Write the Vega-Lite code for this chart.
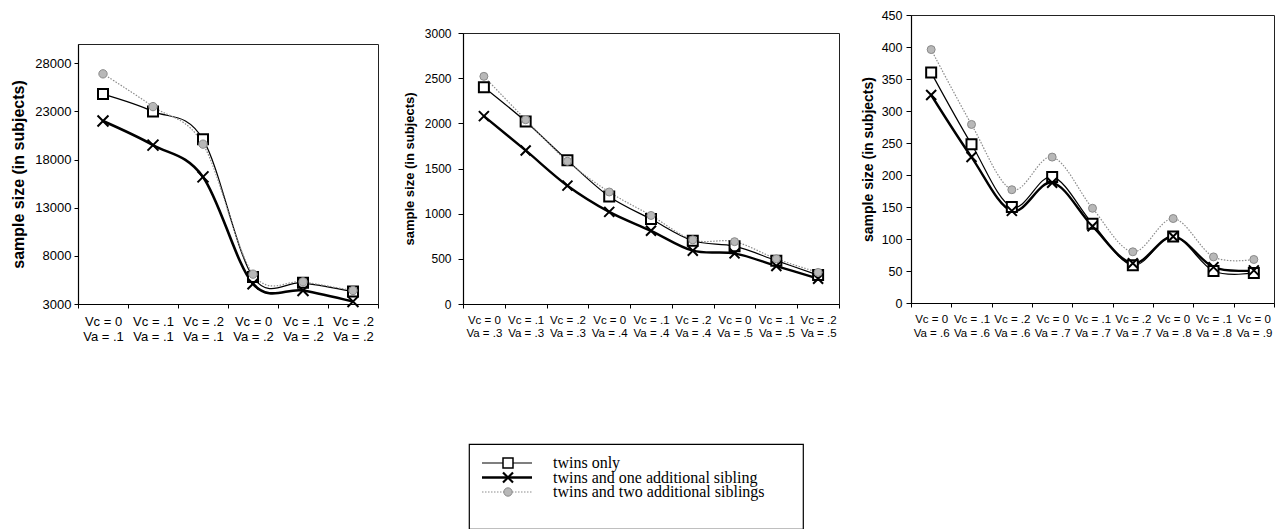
{
  "$schema": "https://vega.github.io/schema/vega-lite/v6.json",
  "background": "white",
  "padding": {"left": 10, "top": 8, "right": 0, "bottom": 0},
  "config": {
    "font": "Liberation Sans",
    "view": {"stroke": "#222", "strokeWidth": 1},
    "axis": {"domainColor": "#000", "domainWidth": 1.2, "tickColor": "#000", "tickWidth": 1, "labelColor": "#000", "titleColor": "#000", "grid": false, "labelFont": "Liberation Sans", "titleFont": "Liberation Sans"}
  },
  "spacing": 97,
  "vconcat": [
    {
      "spacing": 20,
      "resolve": {"scale": {"x": "independent", "y": "independent"}},
      "hconcat": [
        {
          "spacing": 0,
          "vconcat": [
            {"width": 304, "height": 28, "view": {"stroke": null}, "data": {"values": [{}]}, "mark": {"type": "point", "opacity": 0}, "encoding": {}},
            {
              "width": 300, "height": 260,
              "data": {"values": [
                {"condition": "Vc = 0, Va = .1", "group": "twins only", "size": 24800},
                {"condition": "Vc = .1, Va = .1", "group": "twins only", "size": 23000},
                {"condition": "Vc = .2, Va = .1", "group": "twins only", "size": 20100},
                {"condition": "Vc = 0, Va = .2", "group": "twins only", "size": 5800},
                {"condition": "Vc = .1, Va = .2", "group": "twins only", "size": 5200},
                {"condition": "Vc = .2, Va = .2", "group": "twins only", "size": 4300},
                {"condition": "Vc = 0, Va = .1", "group": "twins and one additional sibling", "size": 22000},
                {"condition": "Vc = .1, Va = .1", "group": "twins and one additional sibling", "size": 19500},
                {"condition": "Vc = .2, Va = .1", "group": "twins and one additional sibling", "size": 16200},
                {"condition": "Vc = 0, Va = .2", "group": "twins and one additional sibling", "size": 5100},
                {"condition": "Vc = .1, Va = .2", "group": "twins and one additional sibling", "size": 4400},
                {"condition": "Vc = .2, Va = .2", "group": "twins and one additional sibling", "size": 3250},
                {"condition": "Vc = 0, Va = .1", "group": "twins and two additional siblings", "size": 26900},
                {"condition": "Vc = .1, Va = .1", "group": "twins and two additional siblings", "size": 23500},
                {"condition": "Vc = .2, Va = .1", "group": "twins and two additional siblings", "size": 19600},
                {"condition": "Vc = 0, Va = .2", "group": "twins and two additional siblings", "size": 6100},
                {"condition": "Vc = .1, Va = .2", "group": "twins and two additional siblings", "size": 5300},
                {"condition": "Vc = .2, Va = .2", "group": "twins and two additional siblings", "size": 4400}
              ]},
              "encoding": {
                "x": {"field": "condition", "type": "nominal", "sort": null, "bandPosition": 0.5,
                  "scale": {"type": "band", "paddingInner": 0, "paddingOuter": 0},
                  "axis": {"title": null, "tickBand": "extent", "labelAngle": 0, "labelExpr": "split(datum.label, ', ')", "labelFontSize": 13, "labelLineHeight": 15, "tickSize": 4, "labelPadding": 7, "labelOverlap": false}},
                "y": {"field": "size", "type": "quantitative",
                  "scale": {"domain": [3000, 30000], "nice": false, "zero": false},
                  "axis": {"title": "sample size (in subjects)", "titleFontSize": 16, "titleFontWeight": "bold", "titlePadding": 8, "values": [3000, 8000, 13000, 18000, 23000, 28000], "format": "d", "labelFontSize": 13, "tickSize": 4, "labelPadding": 3}}
              },
              "layer": [
                {"transform": [{"filter": "datum.group == 'twins only'"}], "mark": {"type": "line", "interpolate": "cardinal", "stroke": "#000", "strokeWidth": 1.2}},
                {"transform": [{"filter": "datum.group == 'twins and one additional sibling'"}], "mark": {"type": "line", "interpolate": "cardinal", "stroke": "#000", "strokeWidth": 2.6}},
                {"transform": [{"filter": "datum.group == 'twins and two additional siblings'"}], "mark": {"type": "line", "interpolate": "cardinal", "stroke": "#8c8c8c", "strokeWidth": 1.2, "strokeDash": [1.5, 1.5]}},
                {"transform": [{"filter": "datum.group == 'twins only'"}], "mark": {"type": "point", "shape": "square", "size": 100, "filled": true, "fill": "white", "stroke": "#000", "strokeWidth": 2, "opacity": 1}},
                {"transform": [{"filter": "datum.group == 'twins and one additional sibling'"}], "mark": {"type": "point", "shape": "M-1,-1L1,1M-1,1L1,-1", "size": 120, "filled": false, "stroke": "#000", "strokeWidth": 2, "opacity": 1}},
                {"transform": [{"filter": "datum.group == 'twins and two additional siblings'"}], "mark": {"type": "point", "shape": "circle", "size": 70, "filled": true, "fill": "#b8b8b8", "stroke": "#8a8a8a", "strokeWidth": 1, "opacity": 1}}
              ]
            }
          ]
        },
        {
          "spacing": 0,
          "vconcat": [
            {"width": 376, "height": 11, "view": {"stroke": null}, "data": {"values": [{}]}, "mark": {"type": "point", "opacity": 0}, "encoding": {}},
            {
              "width": 376, "height": 271,
              "data": {"values": [
                {"condition": "Vc = 0, Va = .3", "group": "twins only", "size": 2400},
                {"condition": "Vc = .1, Va = .3", "group": "twins only", "size": 2020},
                {"condition": "Vc = .2, Va = .3", "group": "twins only", "size": 1590},
                {"condition": "Vc = 0, Va = .4", "group": "twins only", "size": 1190},
                {"condition": "Vc = .1, Va = .4", "group": "twins only", "size": 940},
                {"condition": "Vc = .2, Va = .4", "group": "twins only", "size": 700},
                {"condition": "Vc = 0, Va = .5", "group": "twins only", "size": 640},
                {"condition": "Vc = .1, Va = .5", "group": "twins only", "size": 480},
                {"condition": "Vc = .2, Va = .5", "group": "twins only", "size": 320},
                {"condition": "Vc = 0, Va = .3", "group": "twins and one additional sibling", "size": 2080},
                {"condition": "Vc = .1, Va = .3", "group": "twins and one additional sibling", "size": 1700},
                {"condition": "Vc = .2, Va = .3", "group": "twins and one additional sibling", "size": 1310},
                {"condition": "Vc = 0, Va = .4", "group": "twins and one additional sibling", "size": 1020},
                {"condition": "Vc = .1, Va = .4", "group": "twins and one additional sibling", "size": 810},
                {"condition": "Vc = .2, Va = .4", "group": "twins and one additional sibling", "size": 590},
                {"condition": "Vc = 0, Va = .5", "group": "twins and one additional sibling", "size": 560},
                {"condition": "Vc = .1, Va = .5", "group": "twins and one additional sibling", "size": 420},
                {"condition": "Vc = .2, Va = .5", "group": "twins and one additional sibling", "size": 280},
                {"condition": "Vc = 0, Va = .3", "group": "twins and two additional siblings", "size": 2520},
                {"condition": "Vc = .1, Va = .3", "group": "twins and two additional siblings", "size": 2040},
                {"condition": "Vc = .2, Va = .3", "group": "twins and two additional siblings", "size": 1580},
                {"condition": "Vc = 0, Va = .4", "group": "twins and two additional siblings", "size": 1240},
                {"condition": "Vc = .1, Va = .4", "group": "twins and two additional siblings", "size": 980},
                {"condition": "Vc = .2, Va = .4", "group": "twins and two additional siblings", "size": 710},
                {"condition": "Vc = 0, Va = .5", "group": "twins and two additional siblings", "size": 690},
                {"condition": "Vc = .1, Va = .5", "group": "twins and two additional siblings", "size": 500},
                {"condition": "Vc = .2, Va = .5", "group": "twins and two additional siblings", "size": 350}
              ]},
              "encoding": {
                "x": {"field": "condition", "type": "nominal", "sort": null, "bandPosition": 0.5,
                  "scale": {"type": "band", "paddingInner": 0, "paddingOuter": 0},
                  "axis": {"title": null, "tickBand": "extent", "labelAngle": 0, "labelExpr": "split(datum.label, ', ')", "labelFontSize": 11.5, "labelLineHeight": 13, "tickSize": 4, "labelPadding": 6, "labelOverlap": false}},
                "y": {"field": "size", "type": "quantitative",
                  "scale": {"domain": [0, 3000], "nice": false, "zero": false},
                  "axis": {"title": "sample size (in subjects)", "titleFontSize": 13, "titleFontWeight": "bold", "titlePadding": 8, "values": [0, 500, 1000, 1500, 2000, 2500, 3000], "format": "d", "labelFontSize": 12, "tickSize": 5, "labelPadding": 7}}
              },
              "layer": [
                {"transform": [{"filter": "datum.group == 'twins only'"}], "mark": {"type": "line", "interpolate": "cardinal", "stroke": "#000", "strokeWidth": 1.2}},
                {"transform": [{"filter": "datum.group == 'twins and one additional sibling'"}], "mark": {"type": "line", "interpolate": "cardinal", "stroke": "#000", "strokeWidth": 2.4}},
                {"transform": [{"filter": "datum.group == 'twins and two additional siblings'"}], "mark": {"type": "line", "interpolate": "cardinal", "stroke": "#8c8c8c", "strokeWidth": 1.2, "strokeDash": [1.5, 1.5]}},
                {"transform": [{"filter": "datum.group == 'twins only'"}], "mark": {"type": "point", "shape": "square", "size": 100, "filled": true, "fill": "white", "stroke": "#000", "strokeWidth": 2, "opacity": 1}},
                {"transform": [{"filter": "datum.group == 'twins and one additional sibling'"}], "mark": {"type": "point", "shape": "M-1,-1L1,1M-1,1L1,-1", "size": 100, "filled": false, "stroke": "#000", "strokeWidth": 2, "opacity": 1}},
                {"transform": [{"filter": "datum.group == 'twins and two additional siblings'"}], "mark": {"type": "point", "shape": "circle", "size": 64, "filled": true, "fill": "#b8b8b8", "stroke": "#8a8a8a", "strokeWidth": 1, "opacity": 1}}
              ]
            }
          ]
        },
        {
          "width": 363, "height": 288,
          "data": {"values": [
            {"condition": "Vc = 0, Va = .6", "group": "twins only", "size": 360},
            {"condition": "Vc = .1, Va = .6", "group": "twins only", "size": 248},
            {"condition": "Vc = .2, Va = .6", "group": "twins only", "size": 150},
            {"condition": "Vc = 0, Va = .7", "group": "twins only", "size": 197},
            {"condition": "Vc = .1, Va = .7", "group": "twins only", "size": 124},
            {"condition": "Vc = .2, Va = .7", "group": "twins only", "size": 59},
            {"condition": "Vc = 0, Va = .8", "group": "twins only", "size": 104},
            {"condition": "Vc = .1, Va = .8", "group": "twins only", "size": 50},
            {"condition": "Vc = 0, Va = .9", "group": "twins only", "size": 47},
            {"condition": "Vc = 0, Va = .6", "group": "twins and one additional sibling", "size": 325},
            {"condition": "Vc = .1, Va = .6", "group": "twins and one additional sibling", "size": 228},
            {"condition": "Vc = .2, Va = .6", "group": "twins and one additional sibling", "size": 144},
            {"condition": "Vc = 0, Va = .7", "group": "twins and one additional sibling", "size": 188},
            {"condition": "Vc = .1, Va = .7", "group": "twins and one additional sibling", "size": 120},
            {"condition": "Vc = .2, Va = .7", "group": "twins and one additional sibling", "size": 62},
            {"condition": "Vc = 0, Va = .8", "group": "twins and one additional sibling", "size": 104},
            {"condition": "Vc = .1, Va = .8", "group": "twins and one additional sibling", "size": 56},
            {"condition": "Vc = 0, Va = .9", "group": "twins and one additional sibling", "size": 51},
            {"condition": "Vc = 0, Va = .6", "group": "twins and two additional siblings", "size": 396},
            {"condition": "Vc = .1, Va = .6", "group": "twins and two additional siblings", "size": 279},
            {"condition": "Vc = .2, Va = .6", "group": "twins and two additional siblings", "size": 177},
            {"condition": "Vc = 0, Va = .7", "group": "twins and two additional siblings", "size": 228},
            {"condition": "Vc = .1, Va = .7", "group": "twins and two additional siblings", "size": 148},
            {"condition": "Vc = .2, Va = .7", "group": "twins and two additional siblings", "size": 80},
            {"condition": "Vc = 0, Va = .8", "group": "twins and two additional siblings", "size": 132},
            {"condition": "Vc = .1, Va = .8", "group": "twins and two additional siblings", "size": 72},
            {"condition": "Vc = 0, Va = .9", "group": "twins and two additional siblings", "size": 68}
          ]},
          "encoding": {
            "x": {"field": "condition", "type": "nominal", "sort": null, "bandPosition": 0.5,
              "scale": {"type": "band", "paddingInner": 0, "paddingOuter": 0},
              "axis": {"title": null, "tickBand": "extent", "labelAngle": 0, "labelExpr": "split(datum.label, ', ')", "labelFontSize": 11.5, "labelLineHeight": 14, "tickSize": 4, "labelPadding": 6, "labelOverlap": false}},
            "y": {"field": "size", "type": "quantitative",
              "scale": {"domain": [0, 450], "nice": false, "zero": false},
              "axis": {"title": "sample size (in subjects)", "titleFontSize": 14, "titleFontWeight": "bold", "titlePadding": 6, "values": [0, 50, 100, 150, 200, 250, 300, 350, 400, 450], "format": "d", "labelFontSize": 12.5, "tickSize": 5, "labelPadding": 4}}
          },
          "layer": [
            {"transform": [{"filter": "datum.group == 'twins only'"}], "mark": {"type": "line", "interpolate": "cardinal", "stroke": "#000", "strokeWidth": 1.2}},
            {"transform": [{"filter": "datum.group == 'twins and one additional sibling'"}], "mark": {"type": "line", "interpolate": "cardinal", "stroke": "#000", "strokeWidth": 2.4}},
            {"transform": [{"filter": "datum.group == 'twins and two additional siblings'"}], "mark": {"type": "line", "interpolate": "cardinal", "stroke": "#8c8c8c", "strokeWidth": 1.2, "strokeDash": [1.5, 1.5]}},
            {"transform": [{"filter": "datum.group == 'twins only'"}], "mark": {"type": "point", "shape": "square", "size": 100, "filled": true, "fill": "white", "stroke": "#000", "strokeWidth": 2, "opacity": 1}},
            {"transform": [{"filter": "datum.group == 'twins and one additional sibling'"}], "mark": {"type": "point", "shape": "M-1,-1L1,1M-1,1L1,-1", "size": 100, "filled": false, "stroke": "#000", "strokeWidth": 2, "opacity": 1}},
            {"transform": [{"filter": "datum.group == 'twins and two additional siblings'"}], "mark": {"type": "point", "shape": "circle", "size": 64, "filled": true, "fill": "#b8b8b8", "stroke": "#8a8a8a", "strokeWidth": 1, "opacity": 1}}
          ]
        }
      ]
    },
    {
      "spacing": 10,
      "hconcat": [
        {"width": 380, "height": 1, "view": {"stroke": null}, "data": {"values": [{}]}, "mark": {"type": "point", "opacity": 0}, "encoding": {}},
        {
          "width": 334, "height": 85,
          "view": {"stroke": "#000", "strokeWidth": 1.2},
          "data": {"values": [
            {"series": "twins only"},
            {"series": "twins and one additional sibling"},
            {"series": "twins and two additional siblings"}
          ]},
          "encoding": {
            "y": {"field": "series", "type": "nominal", "sort": null, "scale": {"type": "point", "range": [19, 48], "padding": 0}, "axis": null}
          },
          "layer": [
            {"transform": [{"filter": "datum.series == 'twins only'"}], "mark": {"type": "rule", "stroke": "#000", "strokeWidth": 1.2},
              "encoding": {"x": {"datum": 13, "type": "quantitative", "scale": {"domain": [0, 334], "nice": false, "zero": false}, "axis": null}, "x2": {"datum": 63}}},
            {"transform": [{"filter": "datum.series == 'twins and one additional sibling'"}], "mark": {"type": "rule", "stroke": "#000", "strokeWidth": 2.6},
              "encoding": {"x": {"datum": 13, "type": "quantitative", "scale": {"domain": [0, 334], "nice": false, "zero": false}, "axis": null}, "x2": {"datum": 63}}},
            {"transform": [{"filter": "datum.series == 'twins and two additional siblings'"}], "mark": {"type": "rule", "stroke": "#8c8c8c", "strokeWidth": 1.2, "strokeDash": [1.5, 1.5]},
              "encoding": {"x": {"datum": 13, "type": "quantitative", "scale": {"domain": [0, 334], "nice": false, "zero": false}, "axis": null}, "x2": {"datum": 63}}},
            {"transform": [{"filter": "datum.series == 'twins only'"}], "mark": {"type": "point", "shape": "square", "size": 100, "filled": true, "fill": "white", "stroke": "#000", "strokeWidth": 1.5, "opacity": 1},
              "encoding": {"x": {"datum": 39, "type": "quantitative", "scale": {"domain": [0, 334], "nice": false, "zero": false}, "axis": null}}},
            {"transform": [{"filter": "datum.series == 'twins and one additional sibling'"}], "mark": {"type": "point", "shape": "M-1,-1L1,1M-1,1L1,-1", "size": 100, "filled": false, "stroke": "#000", "strokeWidth": 2.2, "opacity": 1},
              "encoding": {"x": {"datum": 39, "type": "quantitative", "scale": {"domain": [0, 334], "nice": false, "zero": false}, "axis": null}}},
            {"transform": [{"filter": "datum.series == 'twins and two additional siblings'"}], "mark": {"type": "point", "shape": "circle", "size": 70, "filled": true, "fill": "#b8b8b8", "stroke": "#8a8a8a", "strokeWidth": 1, "opacity": 1},
              "encoding": {"x": {"datum": 39, "type": "quantitative", "scale": {"domain": [0, 334], "nice": false, "zero": false}, "axis": null}}},
            {"mark": {"type": "text", "align": "left", "baseline": "middle", "font": "Liberation Serif", "fontSize": 16, "color": "#000"},
              "encoding": {"x": {"datum": 84, "type": "quantitative", "scale": {"domain": [0, 334], "nice": false, "zero": false}, "axis": null}, "text": {"field": "series"}}}
          ]
        }
      ]
    }
  ]
}
